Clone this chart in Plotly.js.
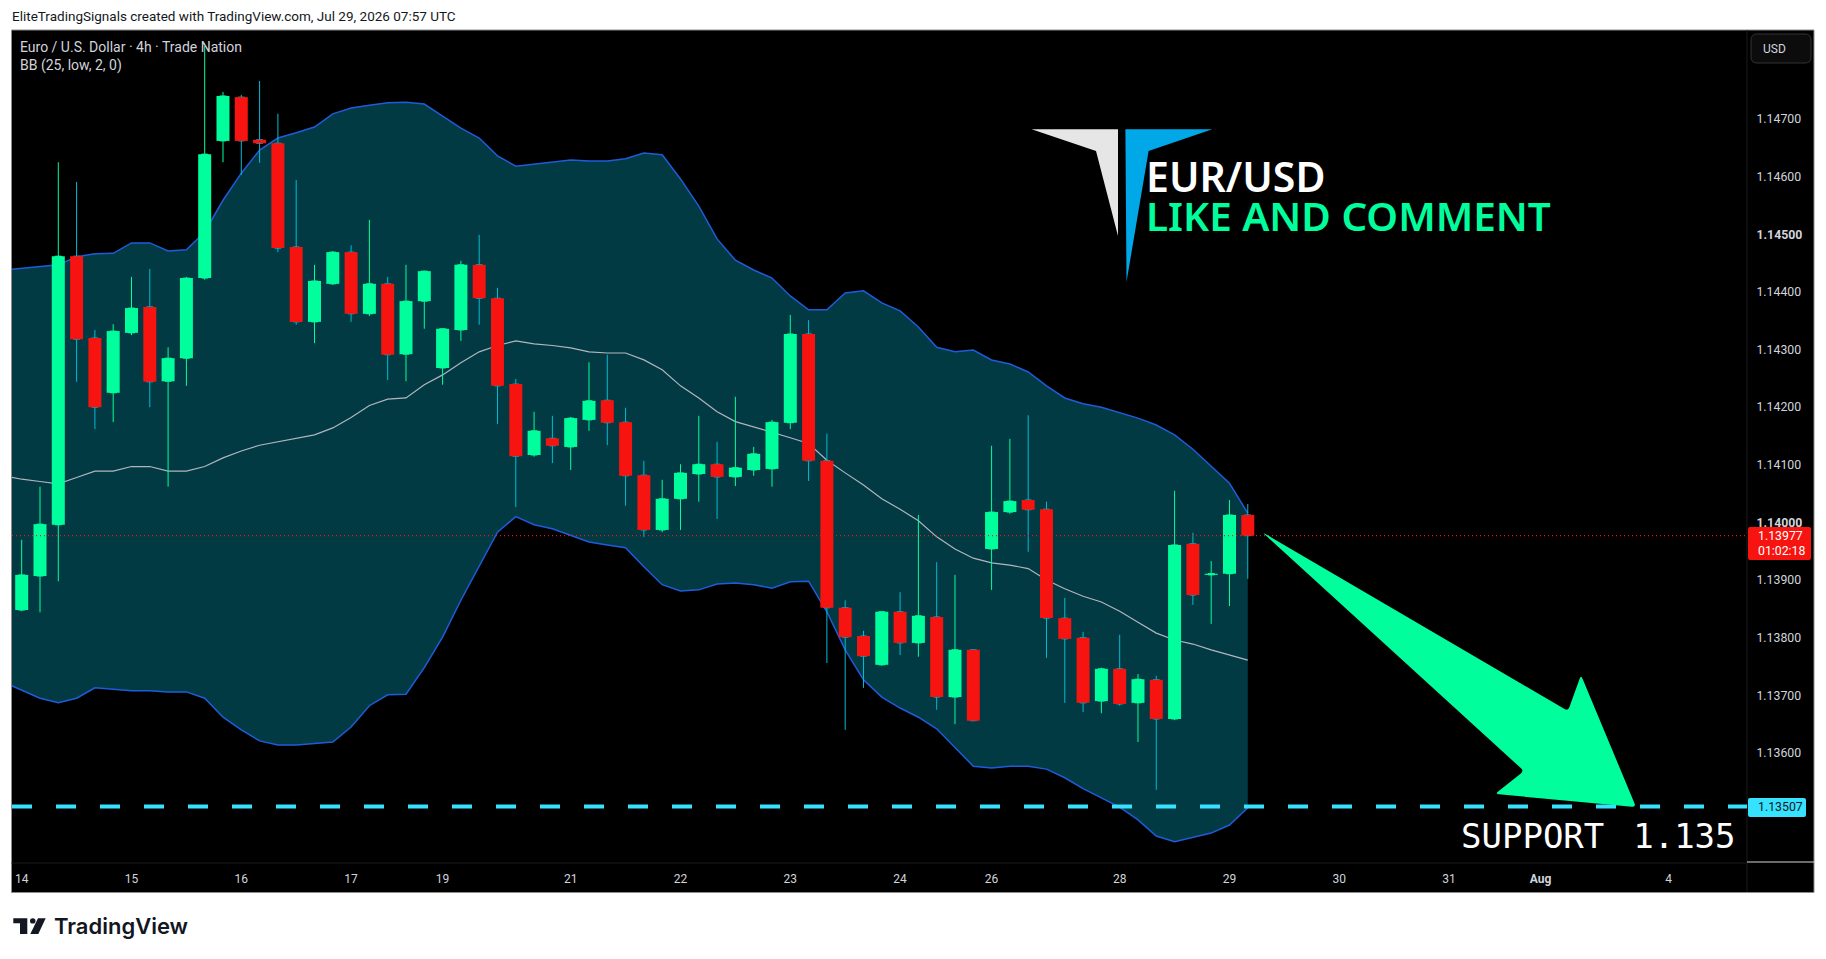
<!DOCTYPE html>
<html>
<head>
<meta charset="utf-8">
<title>EUR/USD 4h</title>
<script src="https://cdn.plot.ly/plotly-3.0.1.min.js"></script>
<style>
  html, body { margin: 0; padding: 0; background: #fff; }
  #chart { width: 1826px; height: 959px; }
</style>
</head>
<body>
<div id="chart"></div>
<script>
// candles, one entry per bar
const opens = [
  1.13848, 1.13907, 1.13996, 1.14462, 1.14320, 1.14225, 1.14329, 1.14374, 1.14245, 1.14285,
  1.14424, 1.14662, 1.14738, 1.14664, 1.14658, 1.14478, 1.14348, 1.14414, 1.14469, 1.14362,
  1.14414, 1.14292, 1.14384, 1.14268, 1.14334, 1.14447, 1.14389, 1.14240, 1.14117, 1.14146,
  1.14131, 1.14178, 1.14212, 1.14174, 1.14082, 1.13987, 1.14041, 1.14084, 1.14101, 1.14079,
  1.14091, 1.14093, 1.14173, 1.14327, 1.14107, 1.13852, 1.13803, 1.13753, 1.13845, 1.13791,
  1.13836, 1.13697, 1.13779, 1.13954, 1.14018, 1.14039, 1.14023, 1.13834, 1.13800, 1.13690,
  1.13746, 1.13687, 1.13727, 1.13659, 1.13963, 1.13909, 1.13911, 1.14013,
];
const highs = [
  1.13970, 1.14062, 1.14625, 1.14591, 1.14334, 1.14344, 1.14426, 1.14440, 1.14304, 1.14426,
  1.14827, 1.14747, 1.14742, 1.14766, 1.14709, 1.14594, 1.14447, 1.14471, 1.14481, 1.14525,
  1.14426, 1.14447, 1.14437, 1.14337, 1.14454, 1.14499, 1.14407, 1.14249, 1.14192, 1.14185,
  1.14183, 1.14278, 1.14291, 1.14199, 1.14107, 1.14074, 1.14101, 1.14185, 1.14140, 1.14218,
  1.14131, 1.14178, 1.14360, 1.14351, 1.14154, 1.13865, 1.13812, 1.13846, 1.13879, 1.14013,
  1.13931, 1.13909, 1.13780, 1.14133, 1.14145, 1.14186, 1.14036, 1.13869, 1.13810, 1.13748,
  1.13805, 1.13737, 1.13734, 1.14055, 1.13982, 1.13933, 1.14039, 1.14032,
];
const lows = [
  1.13846, 1.13844, 1.13898, 1.14244, 1.14162, 1.14174, 1.14325, 1.14200, 1.14062, 1.14237,
  1.14421, 1.14625, 1.14603, 1.14624, 1.14469, 1.14343, 1.14311, 1.14412, 1.14348, 1.14358,
  1.14247, 1.14245, 1.14336, 1.14239, 1.14315, 1.14343, 1.14171, 1.14027, 1.14114, 1.14103,
  1.14091, 1.14159, 1.14134, 1.14029, 1.13975, 1.13983, 1.13987, 1.14036, 1.14006, 1.14063,
  1.14081, 1.14062, 1.14162, 1.14072, 1.13756, 1.13640, 1.13713, 1.13751, 1.13770, 1.13767,
  1.13675, 1.13650, 1.13655, 1.13883, 1.14015, 1.13949, 1.13765, 1.13687, 1.13671, 1.13669,
  1.13682, 1.13619, 1.13536, 1.13657, 1.13857, 1.13824, 1.13855, 1.13902,
];
const closes = [
  1.13909, 1.13997, 1.14462, 1.14318, 1.14200, 1.14332, 1.14372, 1.14244, 1.14285, 1.14424,
  1.14639, 1.14740, 1.14662, 1.14658, 1.14476, 1.14348, 1.14419, 1.14469, 1.14362, 1.14414,
  1.14291, 1.14384, 1.14436, 1.14336, 1.14447, 1.14389, 1.14237, 1.14115, 1.14159, 1.14133,
  1.14181, 1.14211, 1.14173, 1.14081, 1.13987, 1.14041, 1.14086, 1.14101, 1.14079, 1.14095,
  1.14119, 1.14174, 1.14327, 1.14107, 1.13852, 1.13801, 1.13768, 1.13845, 1.13791, 1.13838,
  1.13697, 1.13779, 1.13656, 1.14018, 1.14037, 1.14022, 1.13834, 1.13798, 1.13687, 1.13746,
  1.13685, 1.13728, 1.13659, 1.13961, 1.13874, 1.13911, 1.14013, 1.13977,
];

// Bollinger bands, first value is the bar before the left edge
const bbUpper = [
  1.14438, 1.14441, 1.14445, 1.14447, 1.14461, 1.14466, 1.14467, 1.14485, 1.14485, 1.14471, 1.14473,
  1.14504, 1.14559, 1.14606, 1.14646, 1.14667, 1.14676, 1.14686, 1.14709, 1.14719, 1.14724,
  1.14728, 1.14729, 1.14726, 1.14705, 1.14684, 1.14667, 1.14636, 1.14618, 1.14622, 1.14625,
  1.14629, 1.14627, 1.14627, 1.14631, 1.14641, 1.14638, 1.14596, 1.14549, 1.14492, 1.14455,
  1.14438, 1.14424, 1.14393, 1.14369, 1.14369, 1.14398, 1.14402, 1.14381, 1.14367, 1.14339,
  1.14304, 1.14296, 1.14299, 1.14282, 1.14275, 1.14261, 1.14237, 1.14216, 1.14206, 1.14200,
  1.14190, 1.14181, 1.14169, 1.14152, 1.14127, 1.14098, 1.14068, 1.14016,
];
const bbBasis = [
  1.14081, 1.14075, 1.14071, 1.14067, 1.14078, 1.14089, 1.14089, 1.14097, 1.14097, 1.14089, 1.14089,
  1.14097, 1.14112, 1.14124, 1.14134, 1.14140, 1.14145, 1.14152, 1.14164, 1.14182, 1.14203,
  1.14214, 1.14216, 1.14239, 1.14256, 1.14277, 1.14296, 1.14307, 1.14315, 1.14310, 1.14307,
  1.14303, 1.14296, 1.14294, 1.14294, 1.14282, 1.14265, 1.14237, 1.14216, 1.14192, 1.14175,
  1.14166, 1.14157, 1.14147, 1.14137, 1.14108, 1.14086, 1.14065, 1.14041, 1.14023, 1.14003,
  1.13975, 1.13954, 1.13938, 1.13930, 1.13926, 1.13920, 1.13900, 1.13885, 1.13872, 1.13862,
  1.13846, 1.13827, 1.13808, 1.13796, 1.13789, 1.13779, 1.13770, 1.13761,
];
const bbLower = [
  1.13723, 1.13709, 1.13695, 1.13687, 1.13695, 1.13713, 1.13711, 1.13708, 1.13708, 1.13706, 1.13706,
  1.13695, 1.13662, 1.13640, 1.13621, 1.13614, 1.13614, 1.13617, 1.13619, 1.13645, 1.13682,
  1.13701, 1.13702, 1.13748, 1.13801, 1.13865, 1.13923, 1.13983, 1.14010, 1.13996, 1.13989,
  1.13978, 1.13966, 1.13961, 1.13956, 1.13923, 1.13892, 1.13881, 1.13883, 1.13893, 1.13895,
  1.13892, 1.13886, 1.13897, 1.13898, 1.13845, 1.13779, 1.13727, 1.13697, 1.13678, 1.13662,
  1.13642, 1.13610, 1.13577, 1.13574, 1.13577, 1.13577, 1.13572, 1.13557, 1.13538, 1.13522,
  1.13506, 1.13484, 1.13456, 1.13446, 1.13453, 1.13461, 1.13475, 1.13505,
];

const lastPrice = 1.13977;
const supportPrice = 1.13507;

// axis labels
const timeTickBars = [0, 6, 12, 18, 23, 30, 36, 42, 48, 53, 60, 66, 72, 78, 83, 90];
const timeTickText = ['14', '15', '16', '17', '19', '21', '22', '23', '24', '26', '28', '29', '30', '31', '<b>Aug</b>', '4'];
const priceTicks = [1.136, 1.137, 1.138, 1.139, 1.14, 1.141, 1.142, 1.143, 1.144, 1.145, 1.146, 1.147];
const priceTickText = ['1.13600', '1.13700', '1.13800', '1.13900', '<b>1.14000</b>', '1.14100', '1.14200',
  '1.14300', '1.14400', '<b>1.14500</b>', '1.14600', '1.14700'];

const GREEN = '#00FF9C';
const RED = '#F7130F';
const WICK_DOWN = '#00BCD4';
const BAND_FILL = '#023A43';
const BAND_LINE = '#1F5CDB';
const SUPPORT = '#36E2FF';
const AXIS_TEXT = '#D1D4DC';

// plot rectangle in page pixels
const WIDTH = 1826, HEIGHT = 959;
const PLOT = { l: 12, t: 31, r: 1747, b: 863 };
const xRange = [-0.53, 94.28];
const yRange = [1.134091, 1.148527];

// page pixels to paper coords, for the drawings that are not data
const pageX = px => (px - PLOT.l) / (PLOT.r - PLOT.l);
const pageY = py => 1 - (py - PLOT.t) / (PLOT.b - PLOT.t);
const pt = p => `${pageX(p[0])},${pageY(p[1])}`;
const poly = pts => 'M' + pts.map(pt).join(' L') + ' Z';

// closed polygon with its corners rounded off by r pixels
function roundPoly(pts, r) {
  const n = pts.length;
  const toward = (a, b) => {
    const d = Math.hypot(b[0] - a[0], b[1] - a[1]);
    const k = Math.min(r, d / 2) / d;
    return [a[0] + (b[0] - a[0]) * k, a[1] + (b[1] - a[1]) * k];
  };
  let path = '';
  pts.forEach((p, i) => {
    const prev = pts[(i + n - 1) % n];
    const next = pts[(i + 1) % n];
    path += `${i ? 'L' : 'M'}${pt(toward(p, prev))} Q${pt(p)} ${pt(toward(p, next))} `;
  });
  return path + 'Z';
}
const roundRect = (x0, y0, x1, y1, r) => roundPoly([[x0, y0], [x1, y0], [x1, y1], [x0, y1]], r);

const bars = opens.map((_, i) => i);
const bandBars = [-1, ...bars];
const isUp = opens.map((o, i) => closes[i] >= o);

const traces = [
  {
    type: 'scatter', mode: 'lines', x: bandBars, y: bbUpper, zorder: 0,
    line: { color: BAND_LINE, width: 1.5 }, hoverinfo: 'skip',
  },
  {
    type: 'scatter', mode: 'lines', x: bandBars, y: bbLower, zorder: 0,
    line: { color: BAND_LINE, width: 1.5 }, fill: 'tonexty', fillcolor: BAND_FILL, hoverinfo: 'skip',
  },
  {
    type: 'scatter', mode: 'lines', x: bandBars, y: bbBasis, zorder: 0,
    line: { color: '#B2B5BE', width: 1.2 }, hoverinfo: 'skip',
  },
  // wicks
  {
    type: 'candlestick', x: bars, open: opens, high: highs, low: lows, close: closes, zorder: 1,
    increasing: { line: { color: GREEN, width: 1 }, fillcolor: GREEN },
    decreasing: { line: { color: WICK_DOWN, width: 1 }, fillcolor: RED },
    hoverinfo: 'skip',
  },
  // bodies sit on top so the red ones keep no cyan border
  {
    type: 'bar', x: bars, zorder: 2, width: 0.71,
    base: opens.map((o, i) => Math.min(o, closes[i])),
    y: opens.map((o, i) => Math.abs(closes[i] - o)),
    marker: { color: isUp.map(up => (up ? GREEN : RED)), line: { width: 0 } },
    hoverinfo: 'skip',
  },
  {
    type: 'scatter', mode: 'lines', x: xRange, y: [lastPrice, lastPrice], zorder: 3,
    line: { color: RED, width: 1.2, dash: '1px,3px' }, hoverinfo: 'skip',
  },
  {
    type: 'scatter', mode: 'lines', x: xRange, y: [supportPrice, supportPrice], zorder: 3,
    line: { color: SUPPORT, width: 4, dash: '20px,24px' }, hoverinfo: 'skip',
  },
];

function note(text, px, py, size, color, extra) {
  return {
    text, xref: 'paper', yref: 'paper', x: pageX(px), y: pageY(py), showarrow: false,
    xanchor: 'left', yanchor: 'middle', borderpad: 0,
    font: { family: 'Roboto, sans-serif', size, color }, ...extra,
  };
}

const annotations = [
  note('EliteTradingSignals created with TradingView.com, Jul 29, 2026 07:57 UTC', 11, 16, 13.5, '#131722'),
  note('Euro / U.S. Dollar · 4h · Trade Nation', 19, 46.5, 14, AXIS_TEXT),
  note('BB (25, low, 2, 0)', 19, 65.5, 14, AXIS_TEXT),
  note('USD', 1762, 49, 12, AXIS_TEXT),
  note('EUR/USD', 1145, 176, 41, '#FFFFFF', { font: { family: 'Noto Sans', size: 41, color: '#FFFFFF', weight: 600 } }),
  note('LIKE AND COMMENT', 1145, 216, 40.4, GREEN, { font: { family: 'Noto Sans', size: 40.4, color: GREEN, weight: 600 } }),
  // the gap in this label is wider than one mono space, narrower than two
  note('SUPPORT <span style="font-size:14px">\u00A0</span>1.135', 1460, 836, 34, '#FFFFFF',
    { font: { family: 'DejaVu Sans Mono', size: 34, color: '#FFFFFF' } }),
  note('1.13977', 1757, 536, 12.3, '#FFFFFF'),
  note('01:02:18', 1757, 551, 12.3, '#FFFFFF'),
  note('1.13507', 1757, 807, 12.3, '#131722'),
  note('TradingView', 53, 926, 22, '#131722', { font: { family: 'Inter', size: 22, color: '#131722', weight: 600 } }),
];

const shapes = [
  // frame and the black strips for the two axes
  {
    type: 'rect', xref: 'paper', yref: 'paper', layer: 'below',
    x0: pageX(11.5), x1: pageX(1814), y0: pageY(892.5), y1: pageY(30),
    fillcolor: '#000000', line: { color: '#8C8C8C', width: 1 },
  },
  {
    type: 'line', xref: 'paper', yref: 'paper', layer: 'below',
    x0: pageX(1747), x1: pageX(1747), y0: pageY(892), y1: pageY(30),
    line: { color: '#1A1A1A', width: 1 },
  },
  {
    type: 'line', xref: 'paper', yref: 'paper', layer: 'below',
    x0: pageX(11.5), x1: pageX(1747), y0: pageY(863), y1: pageY(863),
    line: { color: '#1A1A1A', width: 1 },
  },
  {
    type: 'line', xref: 'paper', yref: 'paper', layer: 'below',
    x0: pageX(1747), x1: pageX(1814), y0: pageY(862), y1: pageY(862),
    line: { color: '#D8D8D8', width: 1 },
  },
  // currency button
  {
    type: 'path', xref: 'paper', yref: 'paper', layer: 'below',
    path: roundRect(1751, 34, 1811, 63, 6),
    fillcolor: '#0C0C0C', line: { color: '#333333', width: 1 },
  },
  // logo
  {
    type: 'path', xref: 'paper', yref: 'paper', fillcolor: '#E6E6E6', line: { width: 0 },
    path: poly([[1031.6, 129.3], [1118, 129.3], [1118, 236], [1096, 151]]),
  },
  {
    type: 'path', xref: 'paper', yref: 'paper', fillcolor: '#00A8E8', line: { width: 0 },
    path: poly([[1125.4, 129.3], [1212.3, 129.3], [1148.6, 151], [1126.5, 282]]),
  },
  // target arrow
  {
    type: 'path', xref: 'paper', yref: 'paper', fillcolor: GREEN, line: { width: 0 },
    path: roundPoly([[1262, 532], [1568, 711], [1581, 675], [1636, 807], [1495, 794], [1524, 771]], 4),
  },
  // price tags
  {
    type: 'path', xref: 'paper', yref: 'paper', fillcolor: RED, line: { width: 0 },
    path: roundRect(1748, 527, 1811, 560, 2),
  },
  {
    type: 'path', xref: 'paper', yref: 'paper', fillcolor: SUPPORT, line: { width: 0 },
    path: roundRect(1748, 798, 1806, 817, 2),
  },
  // TradingView mark
  {
    type: 'path', xref: 'paper', yref: 'paper', fillcolor: '#131722', line: { width: 0 },
    path: poly([[13.3, 918.3], [27.3, 918.3], [27.3, 934], [20, 934], [20, 923.3], [13.3, 923.3]]),
  },
  {
    type: 'circle', xref: 'paper', yref: 'paper', fillcolor: '#131722', line: { width: 0 },
    x0: pageX(30), x1: pageX(35.5), y0: pageY(923.6), y1: pageY(918.2),
  },
  {
    type: 'path', xref: 'paper', yref: 'paper', fillcolor: '#131722', line: { width: 0 },
    path: poly([[38, 918.3], [45.7, 918.3], [38.3, 934], [30.3, 934]]),
  },
];

const layout = {
  width: WIDTH,
  height: HEIGHT,
  margin: { l: PLOT.l, t: PLOT.t, r: WIDTH - PLOT.r, b: HEIGHT - PLOT.b, pad: 0 },
  paper_bgcolor: '#FFFFFF',
  plot_bgcolor: '#000000',
  showlegend: false,
  dragmode: false,
  hovermode: false,
  barmode: 'overlay',
  boxgap: 0.5,
  font: { family: 'Roboto, sans-serif', color: AXIS_TEXT, size: 12 },
  xaxis: {
    range: xRange,
    autorange: false,
    rangeslider: { visible: false },
    showgrid: false,
    zeroline: false,
    showline: false,
    tickmode: 'array',
    tickvals: timeTickBars,
    ticktext: timeTickText,
    ticks: 'outside',
    ticklen: 5,
    tickcolor: 'rgba(0,0,0,0)',
    tickangle: 0,
    tickfont: { family: 'Roboto, sans-serif', size: 12, color: AXIS_TEXT },
  },
  yaxis: {
    range: yRange,
    autorange: false,
    side: 'right',
    showgrid: false,
    zeroline: false,
    showline: false,
    tickmode: 'array',
    tickvals: priceTicks,
    ticktext: priceTickText,
    ticks: 'outside',
    ticklen: 6,
    tickcolor: 'rgba(0,0,0,0)',
    tickfont: { family: 'Roboto, sans-serif', size: 12.3, color: AXIS_TEXT },
  },
  shapes,
  annotations,
};

Plotly.newPlot('chart', traces, layout, { staticPlot: true, displayModeBar: false });
</script>
</body>
</html>
